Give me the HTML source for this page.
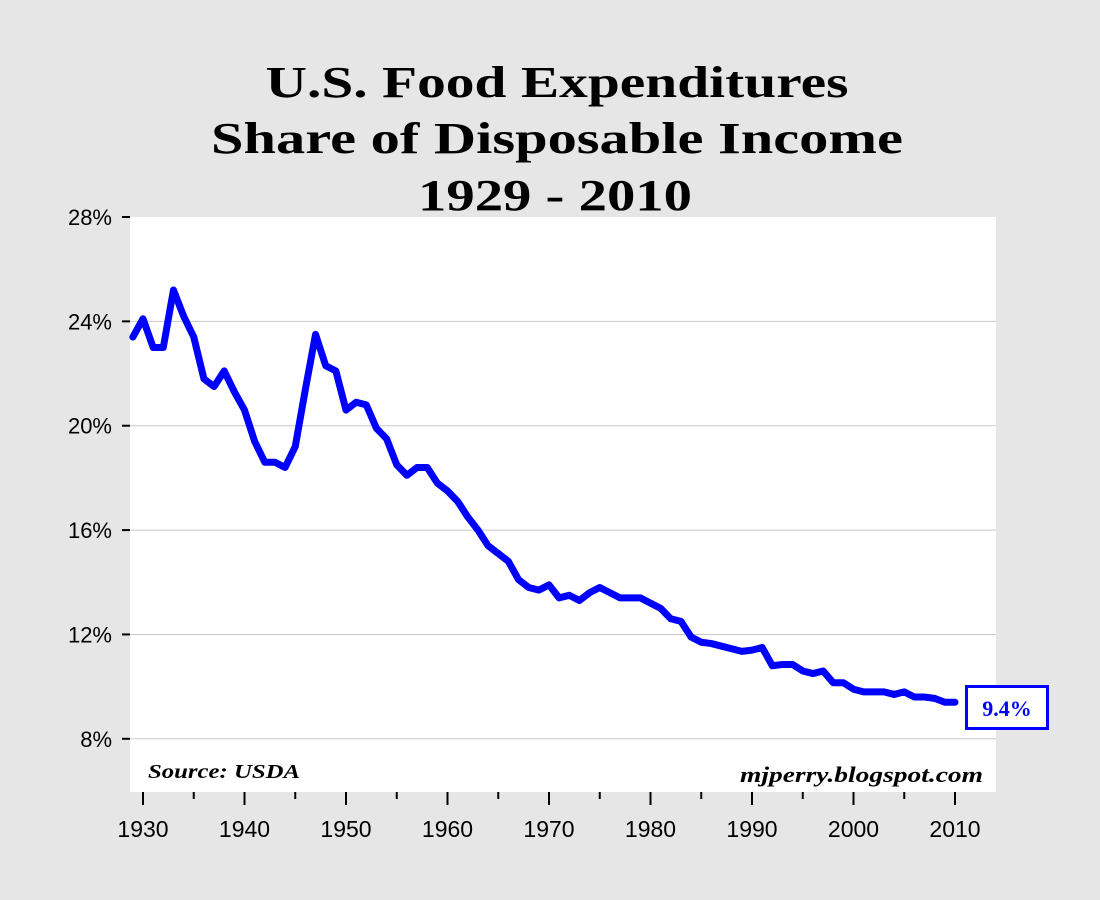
<!DOCTYPE html>
<html><head><meta charset="utf-8"><style>
body{margin:0;background:#e6e6e6;}
svg{display:block;}
</style></head><body>
<svg width="1100" height="900" xmlns="http://www.w3.org/2000/svg">
<rect x="0" y="0" width="1100" height="900" fill="#e6e6e6"/>
<g font-family="'Liberation Serif',serif" font-weight="bold" text-anchor="middle" fill="#000">
<text x="557" y="97" font-size="44" textLength="583" lengthAdjust="spacingAndGlyphs">U.S. Food Expenditures</text>
<text x="557" y="153" font-size="44" textLength="692" lengthAdjust="spacingAndGlyphs">Share of Disposable Income</text>
<text x="555" y="210" font-size="44" textLength="274" lengthAdjust="spacingAndGlyphs">1929 - 2010</text>
</g>
<rect x="130" y="217" width="866" height="575" fill="#fff"/>
<g id="grid"></g>
<g id="yaxis"></g>
<g id="xaxis"></g>
<polyline id="line" fill="none" stroke="#0000ff" stroke-width="7" stroke-linejoin="round" stroke-linecap="round"/>
<text x="148" y="778" font-family="'Liberation Serif',serif" font-weight="bold" font-style="italic" font-size="20" textLength="152" lengthAdjust="spacingAndGlyphs">Source: USDA</text>
<text x="740" y="782" font-family="'Liberation Serif',serif" font-weight="bold" font-style="italic" font-size="22" textLength="243" lengthAdjust="spacingAndGlyphs">mjperry.blogspot.com</text>
<rect x="966.5" y="686.5" width="81" height="42" fill="#fff" stroke="#0000ff" stroke-width="3"/>
<text id="lastlabel" x="1007" y="716" text-anchor="middle" font-family="'Liberation Serif',serif" font-weight="bold" font-size="22" fill="#0000ff">9.4%</text>
</svg>
<script>
const years = [];
for (let y = 1929; y <= 2010; y++) years.push(y);
const shares = [23.4,24.1,23.0,23.0,25.2,24.2,23.4,21.8,21.5,22.1,21.3,20.6,19.4,18.6,18.6,18.4,19.2,21.4,23.5,22.3,22.1,20.6,20.9,20.8,19.9,19.5,18.5,18.1,18.4,18.4,17.8,17.5,17.1,16.5,16.0,15.4,15.1,14.8,14.1,13.8,13.7,13.9,13.4,13.5,13.3,13.6,13.8,13.6,13.4,13.4,13.4,13.2,13.0,12.6,12.5,11.9,11.7,11.65,11.55,11.45,11.35,11.4,11.5,10.8,10.85,10.85,10.6,10.5,10.6,10.15,10.15,9.9,9.8,9.8,9.8,9.7,9.8,9.6,9.6,9.55,9.4,9.4];
const yTicks = [8,12,16,20,24,28];
const xTicks = [1930,1935,1940,1945,1950,1955,1960,1965,1970,1975,1980,1985,1990,1995,2000,2005,2010];
const NS = "http://www.w3.org/2000/svg";
function xs(v){ return 143 + (v - 1930) * 10.15; }
function ys(v){ return 217 + (28 - v) * 26.09; }
const grid = document.getElementById('grid'), ya = document.getElementById('yaxis'), xa = document.getElementById('xaxis');
yTicks.forEach(t => {
  if (t < 28) {
    const l = document.createElementNS(NS,'line');
    l.setAttribute('x1',130); l.setAttribute('x2',996);
    l.setAttribute('y1',ys(t)); l.setAttribute('y2',ys(t));
    l.setAttribute('stroke','#c8c8c8'); l.setAttribute('stroke-width','1');
    
    
    grid.appendChild(l);
  }
  const tk = document.createElementNS(NS,'line');
  tk.setAttribute('x1',122); tk.setAttribute('x2',130);
  tk.setAttribute('y1',ys(t)); tk.setAttribute('y2',ys(t));
  tk.setAttribute('stroke','#000'); tk.setAttribute('stroke-width','2');
  
  
  ya.appendChild(tk);
  const tx = document.createElementNS(NS,'text');
  tx.setAttribute('x',112); tx.setAttribute('y',ys(t)+8);
  tx.setAttribute('text-anchor','end');
  tx.setAttribute('font-family',"'Liberation Sans',sans-serif");
  tx.setAttribute('font-size','22');
  tx.textContent = t + '%';
  
  
  ya.appendChild(tx);
});
xTicks.forEach(t => {
  const major = t % 10 === 0;
  const tk = document.createElementNS(NS,'line');
  tk.setAttribute('x1',xs(t)); tk.setAttribute('x2',xs(t));
  tk.setAttribute('y1',792); tk.setAttribute('y2',major ? 805 : 799);
  tk.setAttribute('stroke','#000'); tk.setAttribute('stroke-width','2');
  
  
  xa.appendChild(tk);
  if (major) {
    const tx = document.createElementNS(NS,'text');
    tx.setAttribute('x',xs(t)); tx.setAttribute('y',837);
    tx.setAttribute('text-anchor','middle');
    tx.setAttribute('font-family',"'Liberation Sans',sans-serif");
    tx.setAttribute('font-size','23');
    tx.textContent = t;
    
    
    xa.appendChild(tx);
  }
});
document.getElementById('line').setAttribute('points', years.map((y,i)=>xs(y)+','+ys(shares[i])).join(' '));
document.getElementById('lastlabel').textContent = shares[shares.length-1].toFixed(1) + '%';
</script>
</body></html>
